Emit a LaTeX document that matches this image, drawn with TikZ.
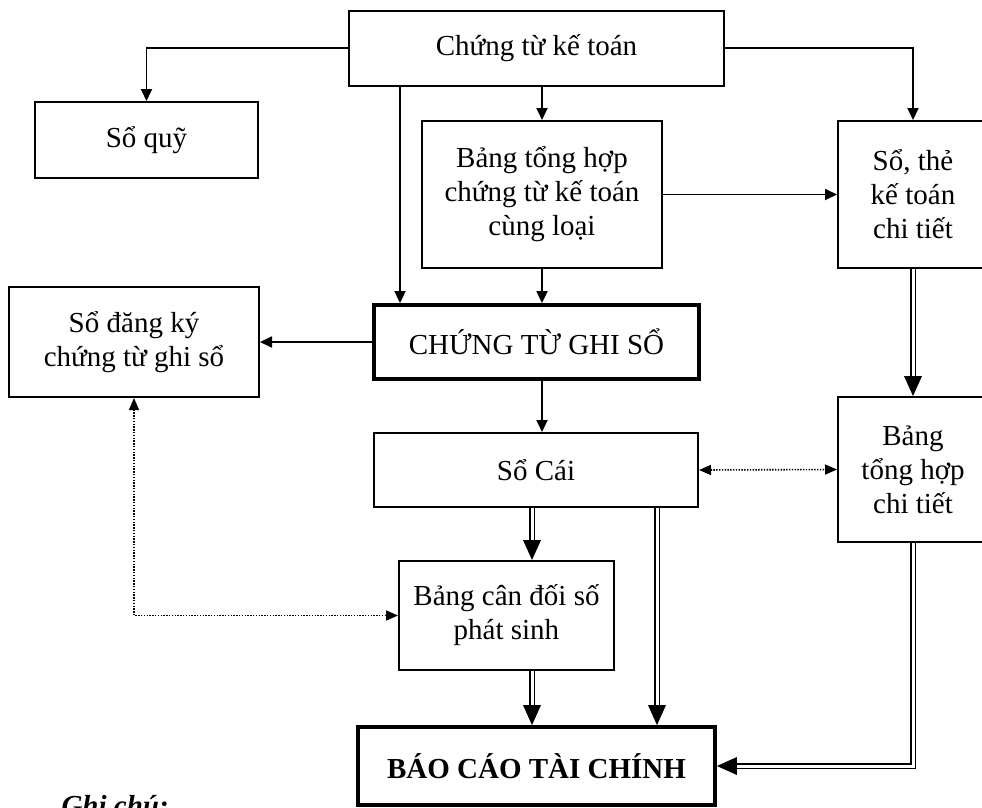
\documentclass[tikz,border=0pt]{standalone}
\usepackage{fontspec}
\setmainfont{Liberation Serif}
\usetikzlibrary{arrows.meta,calc,decorations.markings}

\begin{document}
\begin{tikzpicture}[x=1pt,y=-1pt,
    every node/.style={font=\fontsize{29}{34}\selectfont},
    box/.style={draw,line width=2pt,align=center,inner sep=0pt},
    heavy/.style={box,line width=3.8pt},
    arr/.style={line width=1.8pt,-{Triangle[length=12pt,width=11pt]}},
    dbl/.style={double,line width=1.4pt,double distance=3pt,shorten >=17pt,
      postaction={decorate,decoration={markings,mark=at position 1 with
        {\fill[shorten >=0pt] (0,0) -- (-20pt,9pt) -- (-20pt,-9pt) -- cycle;}}}},
    dots/.style={line width=1.6pt,dash pattern=on 1.4pt off 1.4pt,
      {Triangle[length=12pt,width=10pt]}-{Triangle[length=12pt,width=10pt]}}]
  \useasboundingbox (0,0) rectangle (982,807);
  \clip (0,0) rectangle (982,807);
  % boxes
  \node[box,minimum width=375pt,minimum height=75pt] (ctkt) at (536.5,48) {Chứng từ kế toán};
  \node[box,minimum width=223pt,minimum height=76pt] (soquy) at (146.5,140) {Sổ quỹ};
  \node[box,minimum width=240pt,minimum height=147pt] (bthct) at (542,194.5)
    {Bảng tổng hợp\\chứng từ kế toán\\cùng loại};
  \node[box,minimum width=150pt,minimum height=147pt] (sothe) at (913,194.5)
    {Sổ, thẻ\\kế toán\\chi tiết};
  \node[box,minimum width=250pt,minimum height=110pt] (sodk) at (134,342)
    {Sổ đăng ký\\chứng từ ghi sổ};
  \node[heavy,minimum width=325pt,minimum height=74pt] (ctgs) at (536.5,342) {CHỨNG TỪ GHI SỔ};
  \node[box,minimum width=324pt,minimum height=74pt] (socai) at (536,470) {Sổ Cái};
  \node[box,minimum width=150pt,minimum height=145pt] (bthchi) at (913,469.5)
    {Bảng\\tổng hợp\\chi tiết};
  \node[box,minimum width=215pt,minimum height=109pt] (bcdps) at (506.5,615.5)
    {Bảng cân đối số\\phát sinh};
  \node[heavy,minimum width=357pt,minimum height=78pt,font=\fontsize{29}{34}\selectfont\bfseries]
    (bctc) at (536.5,766) {BÁO CÁO TÀI CHÍNH};
  \node[anchor=base west,font=\fontsize{29}{34}\selectfont\bfseries\itshape] (ghichu) at (58,815) {Ghi chú:};
  % helper columns
  \coordinate (colA) at (400,0);
  \coordinate (colB) at (532,0);
  \coordinate (colC) at (657,0);
  % connectors
  \draw[arr] (ctkt.west) -| (soquy.north);
  \draw[arr] (ctkt.east) -| (sothe.north);
  \draw[arr] (ctkt.south -| colA) -- (ctgs.north -| colA);
  \draw[arr] (ctkt.south -| bthct) -- (bthct.north);
  \draw[arr] (bthct.east) -- (sothe.west);
  \draw[arr] (bthct.south) -- (ctgs.north -| bthct);
  \draw[arr] (ctgs.west) -- (sodk.east);
  \draw[arr] (ctgs.south -| bthct) -- (socai.north -| bthct);
  \draw[dbl] (sothe.south) -- (bthchi.north);
  \draw[dots] (socai.east) -- (bthchi.west);
  \draw[dots] (sodk.south) |- (bcdps.west);
  \draw[dbl] (socai.south -| colB) -- (bcdps.north -| colB);
  \draw[dbl] (socai.south -| colC) -- (bctc.north -| colC);
  \draw[dbl] (bcdps.south -| colB) -- (bctc.north -| colB);
  \draw[dbl] (bthchi.south) |- (bctc.east);
\end{tikzpicture}
\end{document}
